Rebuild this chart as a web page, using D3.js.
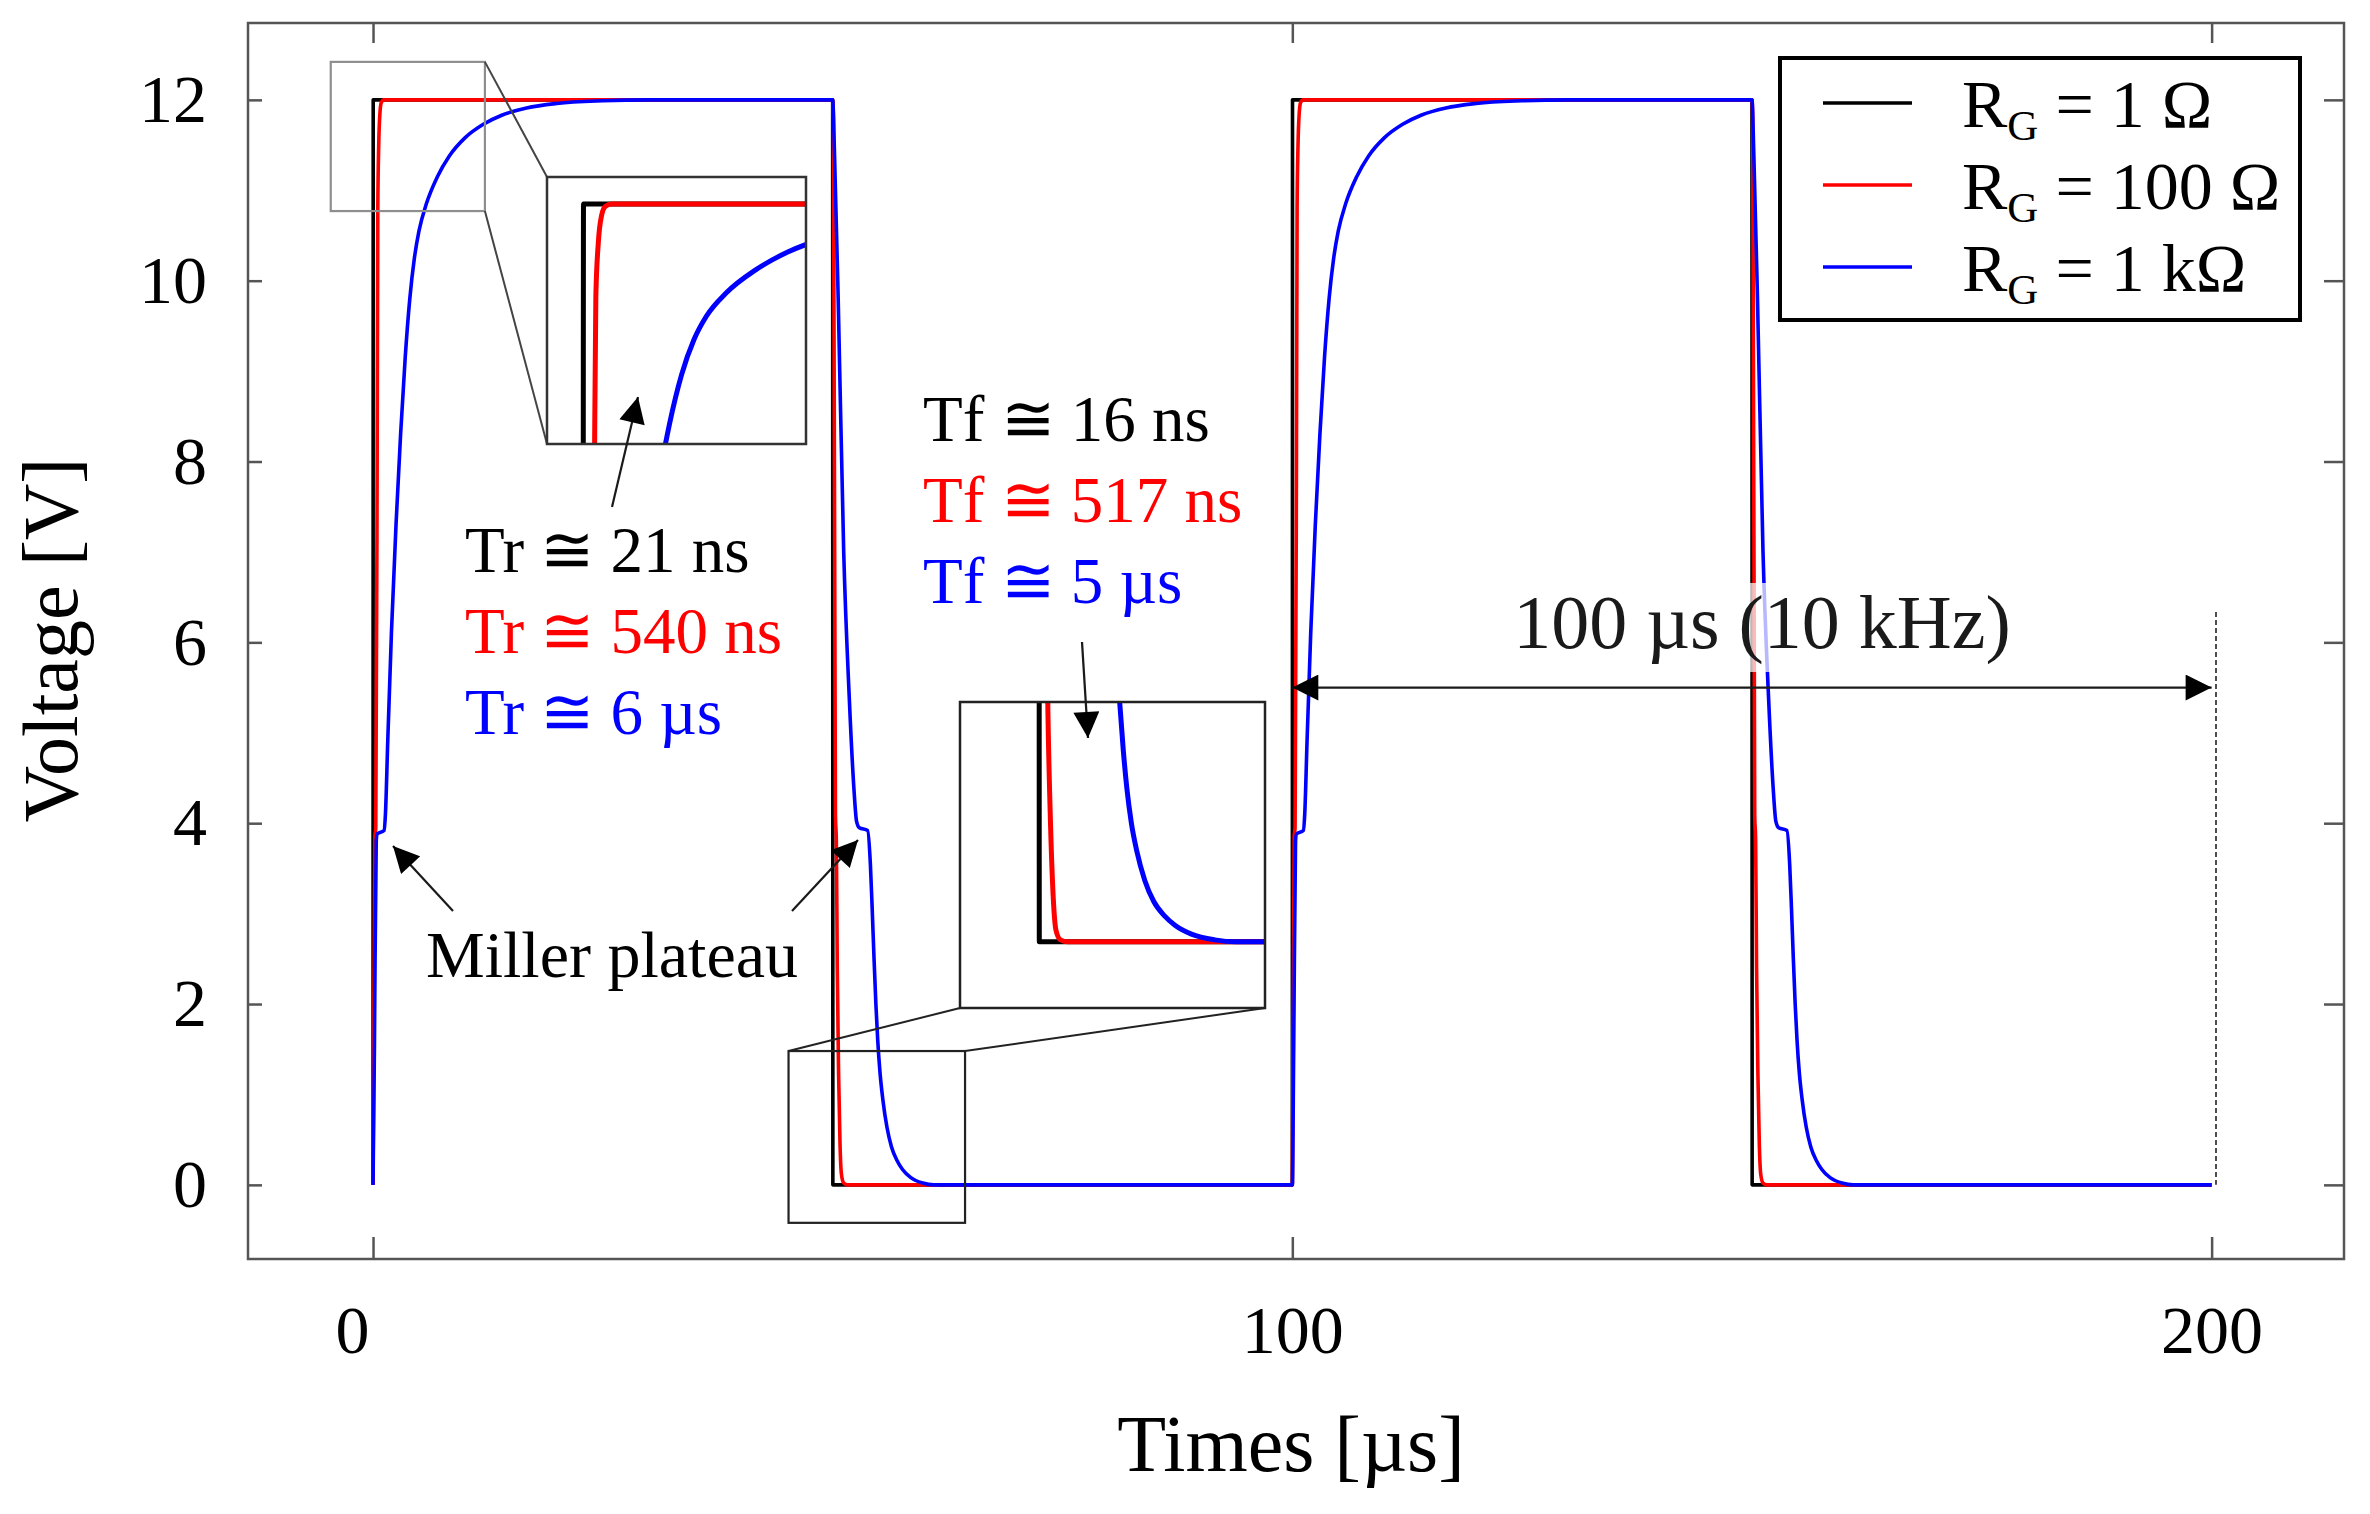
<!DOCTYPE html>
<html>
<head>
<meta charset="utf-8">
<script src="https://cdn.jsdelivr.net/npm/d3@7/dist/d3.min.js"></script>
<style>
  body { margin: 0; background: #fff; }
  text { font-family: "Liberation Serif", "Times New Roman", "DejaVu Serif", serif; }
</style>
</head>
<body>
<svg id="chart" width="2370" height="1514"></svg>
<script>
// gate voltage, [time in µs, volts]
var vgBlack = [
  [0, 0], [0.02, 12], [50, 12], [50.02, 0],
  [100, 0], [100.02, 12], [150, 12], [150.02, 0], [200, 0]
];
var vgRed = [
  [0, 0], [0.2, 3.85], [0.3, 3.95], [0.45, 8], [0.52, 10.8], [0.62, 11.5], [0.75, 11.85], [0.9, 11.97], [1.15, 12],
  [50, 12], [50.08, 11.8], [50.3, 4.1], [50.4, 3.8], [50.5, 2.4], [50.65, 1.2], [50.8, 0.45], [50.95, 0.12], [51.2, 0.02], [51.6, 0],
  [100, 0], [100.2, 3.85], [100.3, 3.95], [100.45, 8], [100.52, 10.8], [100.62, 11.5], [100.75, 11.85], [100.9, 11.97], [101.15, 12],
  [150, 12], [150.08, 11.8], [150.3, 4.1], [150.4, 3.8], [150.5, 2.4], [150.65, 1.2], [150.8, 0.45], [150.95, 0.12], [151.2, 0.02], [151.6, 0],
  [200, 0]
];
var vgBlue = [
  [0, 0], [0.15, 1.5], [0.35, 3.8], [0.45, 3.88], [1.2, 3.92], [1.35, 4.1], [1.6, 4.9], [2.0, 6.1], [2.5, 7.3],
  [3.0, 8.3], [3.5, 9.15], [4.0, 9.8], [4.5, 10.25], [5.0, 10.55], [5.8, 10.85], [7.0, 11.15], [8.3, 11.38],
  [10, 11.58], [12, 11.73], [14, 11.83], [16.7, 11.91], [20, 11.96], [25, 11.99], [30, 12],
  [50, 12], [50.2, 11.4], [50.6, 9.8], [51.2, 7.0], [51.8, 5.4], [52.3, 4.4], [52.6, 4.02], [52.9, 3.95], [53.8, 3.92],
  [54.1, 3.55], [54.3, 3.05], [54.5, 2.5], [54.7, 2.0], [54.9, 1.6], [55.15, 1.24], [55.45, 0.95], [55.9, 0.64], [56.4, 0.42],
  [57, 0.27], [57.6, 0.17], [58.5, 0.08], [59.8, 0.02], [61, 0],
  [100, 0], [100.15, 1.5], [100.35, 3.8], [100.45, 3.88], [101.2, 3.92], [101.35, 4.1], [101.6, 4.9], [102.0, 6.1], [102.5, 7.3],
  [103.0, 8.3], [103.5, 9.15], [104.0, 9.8], [104.5, 10.25], [105.0, 10.55], [105.8, 10.85], [107.0, 11.15], [108.3, 11.38],
  [110, 11.58], [112, 11.73], [114, 11.83], [116.7, 11.91], [120, 11.96], [125, 11.99], [130, 12],
  [150, 12], [150.2, 11.4], [150.6, 9.8], [151.2, 7.0], [151.8, 5.4], [152.3, 4.4], [152.6, 4.02], [152.9, 3.95], [153.8, 3.92],
  [154.1, 3.55], [154.3, 3.05], [154.5, 2.5], [154.7, 2.0], [154.9, 1.6], [155.15, 1.24], [155.45, 0.95], [155.9, 0.64], [156.4, 0.42],
  [157, 0.27], [157.6, 0.17], [158.5, 0.08], [159.8, 0.02], [161, 0],
  [200, 0]
];

var seriesColors = ['#000000', '#ff0000', '#0000ff'];
var legendValues = ['1 Ω', '100 Ω', '1 kΩ'];
var riseLabels = ['Tr ≅ 21 ns', 'Tr ≅ 540 ns', 'Tr ≅ 6 µs'];
var fallLabels = ['Tf ≅ 16 ns', 'Tf ≅ 517 ns', 'Tf ≅ 5 µs'];
var xTicks = [0, 100, 200];
var yTicks = [0, 2, 4, 6, 8, 10, 12];

var series = [vgBlack, vgRed, vgBlue];

var svg = d3.select('#chart');
svg.append('rect').attr('width', 2370).attr('height', 1514).attr('fill', '#fff');

var plot = { left: 248, right: 2344, top: 23, bottom: 1259 };
var x = d3.scaleLinear().domain([-13.6, 214.4]).range([plot.left, plot.right]);
var y = d3.scaleLinear().domain([-0.82, 12.85]).range([plot.bottom, plot.top]);

var defs = svg.append('defs');
defs.append('clipPath').attr('id', 'clip-main')
  .append('rect')
  .attr('x', plot.left).attr('y', plot.top)
  .attr('width', plot.right - plot.left).attr('height', plot.bottom - plot.top);

defs.append('marker')
  .attr('id', 'head')
  .attr('viewBox', '0 -5 10 10')
  .attr('refX', 10).attr('refY', 0)
  .attr('markerUnits', 'userSpaceOnUse')
  .attr('markerWidth', 27).attr('markerHeight', 26)
  .attr('orient', 'auto-start-reverse')
  .append('path')
  .attr('d', 'M0,-5L10,0L0,5Z')
  .attr('fill', '#000');

function drawCurves(g, xs, ys, width, clipId) {
  var line = d3.line()
    .x(function(d) { return xs(d[0]); })
    .y(function(d) { return ys(d[1]); })
    .curve(d3.curveMonotoneX);
  g.append('g')
    .attr('clip-path', 'url(#' + clipId + ')')
    .selectAll('path')
    .data(series)
    .enter()
    .append('path')
    .attr('d', line)
    .attr('fill', 'none')
    .attr('stroke', function(d, i) { return seriesColors[i]; })
    .attr('stroke-width', width)
    .attr('stroke-linejoin', 'round');
}

// axes: ticks inward on all four sides
var axisColor = '#555';
var gLeft = svg.append('g')
  .attr('transform', 'translate(' + plot.left + ',0)')
  .call(d3.axisLeft(y).tickValues(yTicks).tickSizeInner(-14).tickSizeOuter(0).tickPadding(41));
var gRight = svg.append('g')
  .attr('transform', 'translate(' + plot.right + ',0)')
  .call(d3.axisRight(y).tickValues(yTicks).tickSizeInner(-20).tickSizeOuter(0).tickFormat(''));
var gBottom = svg.append('g')
  .attr('transform', 'translate(0,' + plot.bottom + ')')
  .call(d3.axisBottom(x).tickValues(xTicks).tickSizeInner(-22).tickSizeOuter(0).tickPadding(46));
var gTop = svg.append('g')
  .attr('transform', 'translate(0,' + plot.top + ')')
  .call(d3.axisTop(x).tickValues(xTicks).tickSizeInner(-20).tickSizeOuter(0).tickFormat(''));

[gLeft, gRight, gBottom, gTop].forEach(function(g) {
  g.select('.domain').remove();
  g.selectAll('line').attr('stroke', axisColor).attr('stroke-width', 2.5);
  g.selectAll('text')
    .attr('fill', '#000')
    .style('font-family', '"Liberation Serif", "Times New Roman", serif')
    .style('font-size', '68px');
});
gBottom.selectAll('text').filter(function(d) { return d === 0; }).attr('dx', -21);

drawCurves(svg, x, y, 3.6, 'clip-main');

svg.append('rect')
  .attr('x', plot.left).attr('y', plot.top)
  .attr('width', plot.right - plot.left).attr('height', plot.bottom - plot.top)
  .attr('fill', 'none')
  .attr('stroke', axisColor)
  .attr('stroke-width', 2.5);

// axis titles
svg.append('text')
  .attr('x', 1291).attr('y', 1471)
  .attr('text-anchor', 'middle')
  .style('font-size', '80px')
  .text('Times [µs]');
svg.append('text')
  .attr('transform', 'translate(77,640) rotate(-90)')
  .attr('text-anchor', 'middle')
  .style('font-size', '78px')
  .text('Voltage [V]');

// zoom insets
var insets = [
  {
    id: 'rise', small: [-4.6, 12.17, 10.77, 12.42], box: [547, 177, 259, 267],
    dom: [-1.46, 9.04, 8.9, 12.35], smallColor: '#8e8e8e', linkColor: '#444', boxColor: '#333',
    links: [['right', 'top', 'left', 'top'], ['right', 'bottom', 'left', 'bottom']]
  },
  {
    id: 'fall', small: [45.2, 64.4, -0.42, 1.48], box: [960, 702, 305, 306],
    dom: [45.6, 62.6, -0.69, 2.5], smallColor: '#222', linkColor: '#222', boxColor: '#222',
    links: [['left', 'top', 'left', 'bottom'], ['right', 'top', 'right', 'bottom']]
  }
];

insets.forEach(function(ins) {
  var sx0 = x(ins.small[0]), sx1 = x(ins.small[1]);
  var sy0 = y(ins.small[3]), sy1 = y(ins.small[2]);
  var small = { left: sx0, right: sx1, top: sy0, bottom: sy1 };
  var big = { left: ins.box[0], right: ins.box[0] + ins.box[2], top: ins.box[1], bottom: ins.box[1] + ins.box[3] };

  svg.append('rect')
    .attr('x', sx0).attr('y', sy0)
    .attr('width', sx1 - sx0).attr('height', sy1 - sy0)
    .attr('fill', 'none')
    .attr('stroke', ins.smallColor)
    .attr('stroke-width', 2.2);

  ins.links.forEach(function(l) {
    svg.append('line')
      .attr('x1', small[l[0]]).attr('y1', small[l[1]])
      .attr('x2', big[l[2]]).attr('y2', big[l[3]])
      .attr('stroke', ins.linkColor)
      .attr('stroke-width', 2);
  });

  var clipId = 'clip-' + ins.id;
  defs.append('clipPath').attr('id', clipId)
    .append('rect')
    .attr('x', big.left).attr('y', big.top)
    .attr('width', ins.box[2]).attr('height', ins.box[3]);

  svg.append('rect')
    .attr('x', big.left).attr('y', big.top)
    .attr('width', ins.box[2]).attr('height', ins.box[3])
    .attr('fill', '#fff');

  var ix = d3.scaleLinear().domain([ins.dom[0], ins.dom[1]]).range([big.left, big.right]);
  var iy = d3.scaleLinear().domain([ins.dom[2], ins.dom[3]]).range([big.bottom, big.top]);
  drawCurves(svg, ix, iy, 5, clipId);

  svg.append('rect')
    .attr('x', big.left).attr('y', big.top)
    .attr('width', ins.box[2]).attr('height', ins.box[3])
    .attr('fill', 'none')
    .attr('stroke', ins.boxColor)
    .attr('stroke-width', 2.5);
});

// rise / fall annotations
function labelBlock(lines, left, top) {
  svg.append('g').selectAll('text')
    .data(lines)
    .enter()
    .append('text')
    .attr('x', left)
    .attr('y', function(d, i) { return top + i * 81; })
    .attr('fill', function(d, i) { return seriesColors[i]; })
    .style('font-size', '65px')
    .text(function(d) { return d; });
}
labelBlock(riseLabels, 465, 572);
labelBlock(fallLabels, 923, 441);

svg.append('text')
  .attr('x', 426).attr('y', 977)
  .style('font-size', '66px')
  .text('Miller plateau');

function arrow(x1, y1, x2, y2, both) {
  var a = svg.append('line')
    .attr('x1', x1).attr('y1', y1)
    .attr('x2', x2).attr('y2', y2)
    .attr('stroke', '#1a1a1a')
    .attr('stroke-width', 2.2)
    .attr('marker-end', 'url(#head)');
  if (both) a.attr('marker-start', 'url(#head)');
}
arrow(612, 507, 638, 397);
arrow(1082, 642, 1088, 738);
arrow(453, 911, 393, 846);
arrow(792, 911, 858, 840);
arrow(x(100), y(5.5), x(200), y(5.5), true);

// period label, drawn over a translucent patch
svg.append('rect')
  .attr('x', 1500).attr('y', 583)
  .attr('width', 520).attr('height', 89)
  .attr('fill', '#fff')
  .attr('fill-opacity', 0.72);
svg.append('text')
  .attr('x', 1762).attr('y', 648)
  .attr('text-anchor', 'middle')
  .attr('fill', '#1a1a1a')
  .style('font-size', '76px')
  .text('100 µs (10 kHz)');

svg.append('line')
  .attr('x1', 2216).attr('x2', 2216)
  .attr('y1', 612).attr('y2', y(0))
  .attr('stroke', '#222')
  .attr('stroke-width', 1.6)
  .attr('stroke-dasharray', '5,3');

// legend
var legend = svg.append('g');
legend.append('rect')
  .attr('x', 1780).attr('y', 58)
  .attr('width', 520).attr('height', 262)
  .attr('fill', '#fff')
  .attr('stroke', '#000')
  .attr('stroke-width', 4);

var rows = legend.selectAll('g.row')
  .data(legendValues)
  .enter()
  .append('g')
  .attr('class', 'row')
  .attr('transform', function(d, i) { return 'translate(0,' + (103 + i * 82) + ')'; });

rows.append('line')
  .attr('x1', 1823).attr('x2', 1912)
  .attr('stroke', function(d, i) { return seriesColors[i]; })
  .attr('stroke-width', 3.5);

var lt = rows.append('text')
  .attr('x', 1962).attr('y', 24)
  .style('font-size', '68px');
lt.append('tspan').text('R');
lt.append('tspan').attr('dy', 13).style('font-size', '43px').text('G');
lt.append('tspan').attr('dy', -13).text(function(d) { return ' = ' + d; });
</script>
</body>
</html>
